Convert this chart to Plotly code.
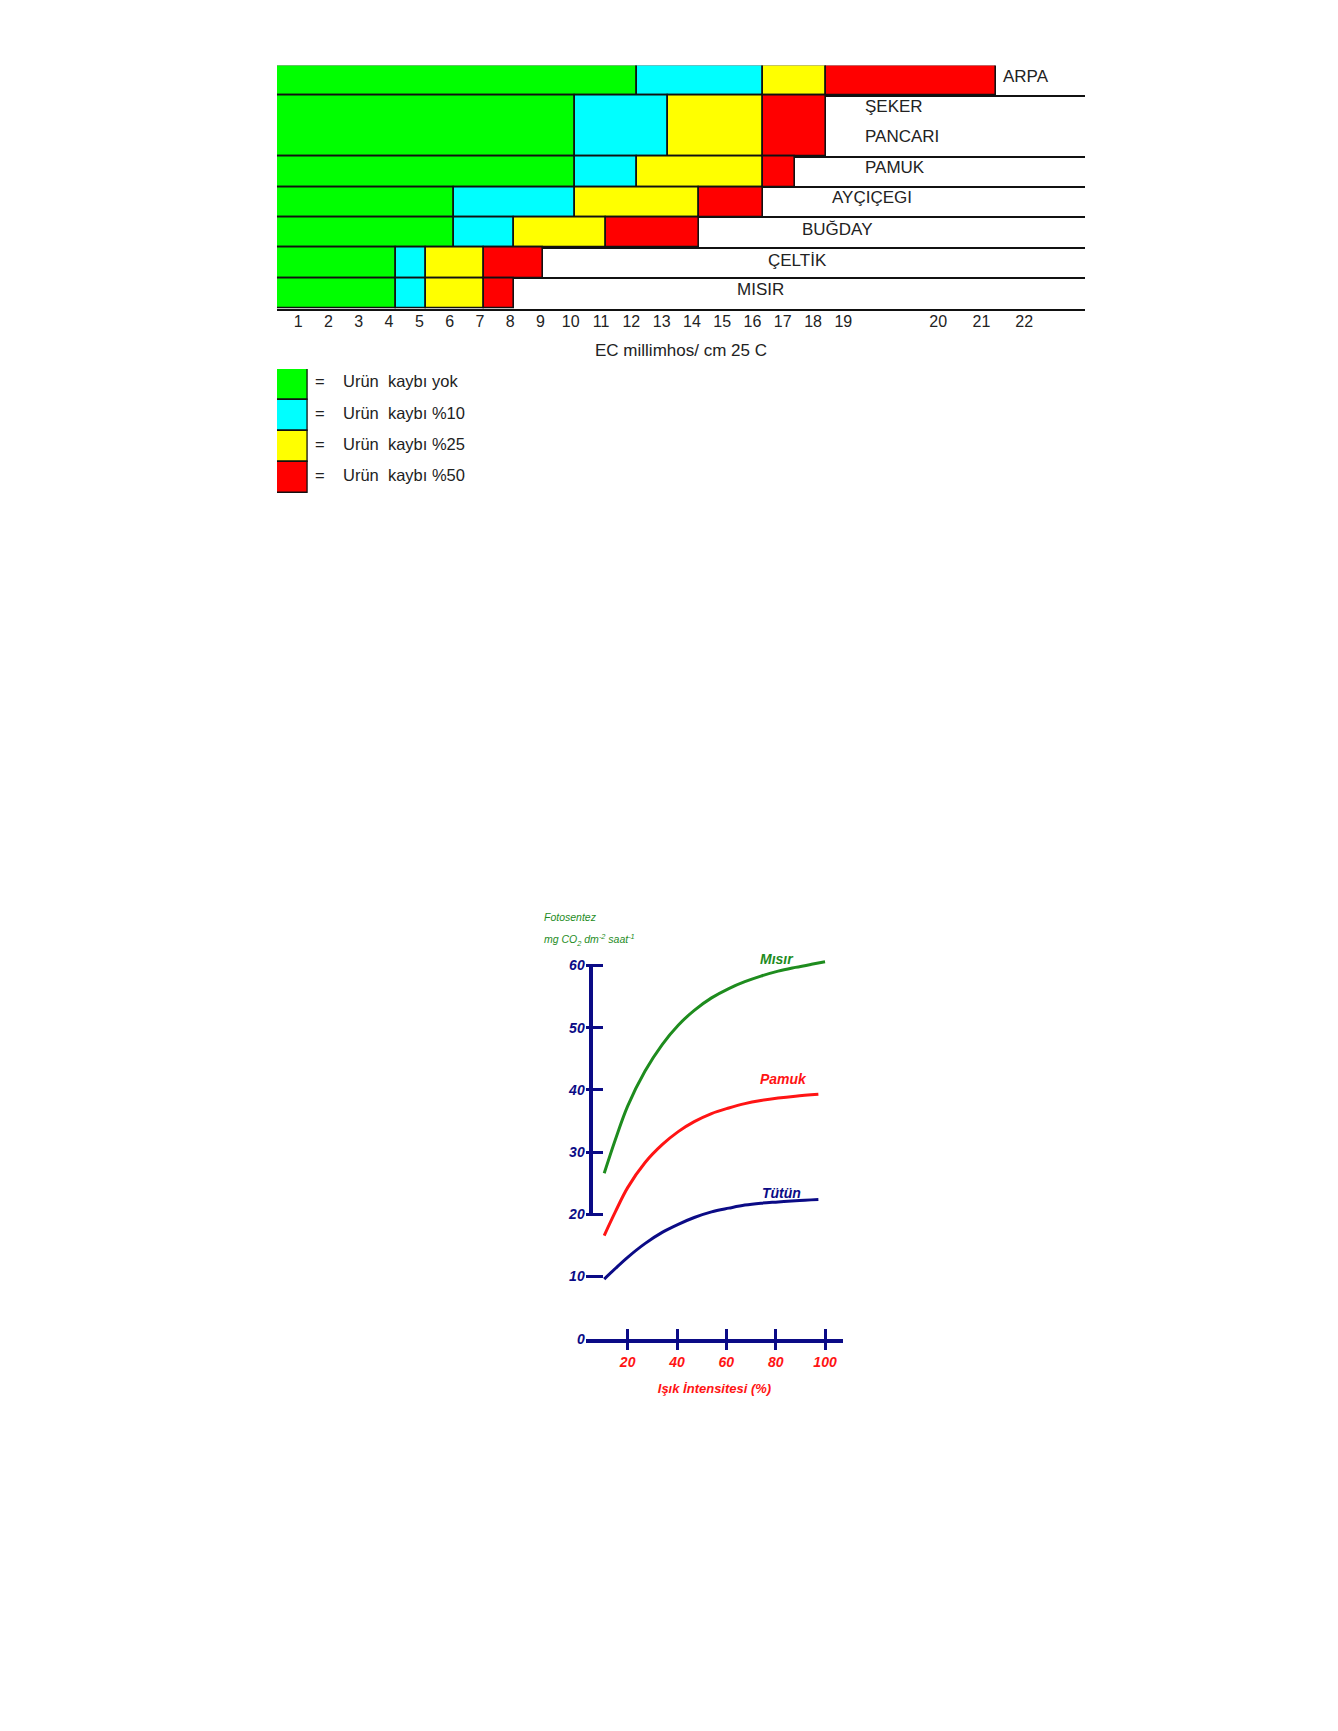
import plotly.graph_objects as go

# ---------------- DATA : salt tolerance chart ----------------
CROPS = ["ARPA", "ŞEKER PANCARI", "PAMUK", "AYÇIÇEGI", "BUĞDAY", "ÇELTİK", "MISIR"]
# EC value where each loss class ends (axis units)
END_NO_LOSS = [12.20, 10.14, 10.14, 6.15, 6.15, 4.22, 4.22]
END_LOSS_10 = [16.36, 13.22, 12.20, 10.14, 8.12, 5.21, 5.21]
END_LOSS_25 = [18.42, 16.36, 16.36, 14.24, 11.15, 7.13, 7.13]
END_LOSS_50 = [24.04, 18.42, 17.40, 16.36, 14.24, 9.07, 8.12]

EC_TICK_TEXT = ["1", "2", "3", "4", "5", "6", "7", "8", "9", "10", "11", "12",
                "13", "14", "15", "16", "17", "18", "19", "20", "21", "22"]
EC_TICK_AT = [1, 2, 3, 4, 5, 6, 7, 8, 9, 10, 11, 12, 13, 14, 15, 16, 17, 18, 19,
              22.13, 23.56, 24.97]

LOSS_LABELS = ["Urün  kaybı yok", "Urün  kaybı %10", "Urün  kaybı %25", "Urün  kaybı %50"]

# ---------------- DATA : photosynthesis chart ----------------
LIGHT_MISIR = [10.5, 15, 20, 27, 34, 40.5, 47, 54, 61, 67.5, 74, 81, 88, 94.5, 100]
MISIR_VAL = [26.6, 32.0, 37.4, 43.0, 47.3, 50.4, 52.8, 54.8, 56.3, 57.4, 58.3, 59.1, 59.7, 60.2, 60.6]
LIGHT_OTHER = [10.5, 15, 20, 27, 34, 40.5, 47, 54, 61, 67.5, 74, 81, 88, 97.3]
PAMUK_VAL = [16.6, 20.4, 24.3, 28.3, 31.2, 33.3, 34.9, 36.2, 37.1, 37.8, 38.3, 38.7, 39.0, 39.3]
TUTUN_VAL = [9.6, 11.3, 13.1, 15.3, 17.1, 18.4, 19.5, 20.4, 21.0, 21.5, 21.8, 22.0, 22.2, 22.4]
PHOTO_Y_TICKS = [0, 10, 20, 30, 40, 50, 60]
LIGHT_TICKS = [20, 40, 60, 80, 100]

# ---------------- styles / layout helpers ----------------
W, H = 1338, 1731
def px(x):
    return x / W
def py(y):
    return 1 - y / H

FONT = "Arial, Liberation Sans, sans-serif"
TXT = "#222222"
LOSS_COLORS = ["#00FF00", "#00FFFF", "#FFFF00", "#FF0000"]
NAVY = "#0B0B86"
GREEN = "#1E8C1E"
RED = "#FF1414"

# row bands: a crop name with two words takes two rows
heights = [len(c.split(" ")) for c in CROPS]
tops = []
acc = sum(heights)
for h in heights:
    tops.append(acc)
    acc -= h
centers = [t - h / 2 for t, h in zip(tops, heights)]
row_lines = sorted(set([t - h for t, h in zip(tops, heights)] + tops[1:]))

fig = go.Figure()

ends = [END_NO_LOSS, END_LOSS_10, END_LOSS_25, END_LOSS_50]
prev = [0.0] * len(CROPS)
for arr, col in zip(ends, LOSS_COLORS):
    fig.add_trace(go.Bar(
        y=centers, x=[a - p for a, p in zip(arr, prev)], base=prev,
        width=heights, orientation="h", marker=dict(color=col, line=dict(color="#111", width=1.6)),
        xaxis="x", yaxis="y", showlegend=False, hoverinfo="skip"))
    prev = list(arr)

# legend swatches
n = len(LOSS_LABELS)
leg_y = list(range(n - 1, -1, -1))
fig.add_trace(go.Bar(
    y=leg_y, x=[1] * n, base=[0] * n, width=[1] * n, orientation="h",
    marker=dict(color=LOSS_COLORS, line=dict(color="#111", width=1.6)),
    xaxis="x2", yaxis="y2", showlegend=False, hoverinfo="skip"))

# photosynthesis curves
for xs, ys, col in [(LIGHT_MISIR, MISIR_VAL, GREEN), (LIGHT_OTHER, PAMUK_VAL, RED), (LIGHT_OTHER, TUTUN_VAL, NAVY)]:
    fig.add_trace(go.Scatter(x=xs, y=ys, mode="lines",
                             line=dict(color=col, width=3, shape="spline", smoothing=1.0),
                             xaxis="x3", yaxis="y3", showlegend=False, hoverinfo="skip"))
# helper (empty) traces to materialise the extra axes
fig.add_trace(go.Scatter(x=[None], y=[None], xaxis="x4", yaxis="y3", showlegend=False, hoverinfo="skip"))
fig.add_trace(go.Scatter(x=[None], y=[None], xaxis="x3", yaxis="y4", showlegend=False, hoverinfo="skip"))

# crop name labels
LABEL_POS = {
    "ARPA": (24.2, 7.65, "left"),
    "ŞEKER": (19.65, 6.65, "left"),
    "PANCARI": (19.65, 5.65, "left"),
    "PAMUK": (19.65, 4.64, "left"),
    "AYÇIÇEGI": (19.95, 3.65, "center"),
    "BUĞDAY": (18.81, 2.60, "center"),
    "ÇELTİK": (17.50, 1.58, "center"),
    "MISIR": (16.28, 0.62, "center"),
}
annotations = []
for c in CROPS:
    for word in c.split(" "):
        x, y, anc = LABEL_POS[word]
        annotations.append(dict(x=x, y=y, xref="x", yref="y", text=word, showarrow=False,
                                xanchor=anc, yanchor="middle", font=dict(family=FONT, size=17, color=TXT)))

# legend texts
for yy, lab in zip(leg_y, LOSS_LABELS):
    annotations.append(dict(x=px(320), y=yy + 0.10, xref="paper", yref="y2", text="=", showarrow=False,
                            xanchor="center", yanchor="middle", font=dict(family=FONT, size=16.5, color=TXT)))
    annotations.append(dict(x=px(341), y=yy + 0.10, xref="paper", yref="y2",
                            text=lab.replace("  ", "\u00a0\u00a0"), showarrow=False,
                            xanchor="left", yanchor="middle", font=dict(family=FONT, size=16.5, color=TXT)))

# photosynthesis annotations
CURVE_LABELS = [("Mısır", 80.5, 61.0, GREEN), ("Pamuk", 83.3, 41.8, RED), ("Tütün", 82.4, 23.4, NAVY)]
for t, x, y, col in CURVE_LABELS:
    annotations.append(dict(x=x, y=y, xref="x3", yref="y3", text=t, showarrow=False,
                            font=dict(family=FONT, size=14, color=col, weight="bold", style="italic")))
annotations.append(dict(x=px(542), y=py(921), xref="paper", yref="paper", text="Fotosentez",
                        showarrow=False, xanchor="left", yanchor="middle",
                        font=dict(family=FONT, size=10.5, color=GREEN, style="italic")))
annotations.append(dict(x=px(542), y=py(944), xref="paper", yref="paper",
                        text="mg CO<sub>2</sub> dm<sup>-2</sup> saat<sup>-1</sup>",
                        showarrow=False, xanchor="left", yanchor="middle",
                        font=dict(family=FONT, size=10.5, color=GREEN, style="italic")))

fig.update_layout(
    width=W, height=H, margin=dict(l=0, r=0, t=0, b=0),
    paper_bgcolor="white", plot_bgcolor="rgba(0,0,0,0)",
    barmode="overlay", bargap=0, showlegend=False,
    font=dict(family=FONT, color=TXT),
    annotations=annotations,
    xaxis=dict(domain=[px(277), px(1085)], range=[0.30, 26.98], anchor="y",
               tickmode="array", tickvals=EC_TICK_AT, ticktext=EC_TICK_TEXT, ticks="",
               ticklabelstandoff=-3,
               tickfont=dict(family=FONT, size=16, color=TXT),
               showgrid=False, zeroline=False, showline=True, linecolor="#111", linewidth=1.6,
               title=dict(text="EC millimhos/ cm 25 C", font=dict(family=FONT, size=17, color=TXT), standoff=16)),
    yaxis=dict(domain=[py(310), py(65.7)], range=[0, sum(heights)], anchor="x",
               tickmode="array", tickvals=row_lines, showticklabels=False, ticks="",
               showgrid=True, gridcolor="#111", gridwidth=1.6, zeroline=False, showline=False),
    xaxis2=dict(domain=[px(277), px(307.7)], range=[0, 1], anchor="y2",
                showticklabels=False, showgrid=False, zeroline=False, ticks=""),
    yaxis2=dict(domain=[py(495.7), py(370.7)], range=[-0.5, n - 0.5], anchor="x2",
                showticklabels=False, ticks="", showgrid=False, zeroline=False),
    xaxis3=dict(domain=[px(585.7), px(843.3)], range=[3, 107.4], anchor="y3",
                tickmode="array", tickvals=LIGHT_TICKS, ticks="outside", ticklen=7, tickwidth=3,
                tickcolor=NAVY, showline=True, linecolor=NAVY, linewidth=4,
                showgrid=False, zeroline=False,
                tickfont=dict(family=FONT, size=14, color=RED, weight="bold", style="italic"),
                title=dict(text="Işık İntensitesi (%)", standoff=16,
                           font=dict(family=FONT, size=13, color=RED, weight="bold", style="italic"))),
    xaxis4=dict(overlaying="x3", anchor="y3", range=[3, 107.4], side="bottom",
                tickmode="array", tickvals=LIGHT_TICKS, ticks="inside", ticklen=10, tickwidth=3,
                tickcolor=NAVY, showticklabels=False, showline=False, showgrid=False, zeroline=False),
    yaxis3=dict(domain=[py(1345), py(957.5)], range=[0, 62], anchor="x3",
                tickmode="array", tickvals=PHOTO_Y_TICKS, ticks="inside", ticklen=17, tickwidth=3,
                tickcolor=NAVY, showline=False, showgrid=False, zeroline=False,
                tickfont=dict(family=FONT, size=14, color=NAVY, weight="bold", style="italic")),
    yaxis4=dict(domain=[py(1220), py(970)], range=[20, 60], anchor="free", position=px(590.7),
                showline=True, linecolor=NAVY, linewidth=4, ticks="", showticklabels=False,
                showgrid=False, zeroline=False),
)

fig.write_html("out.html", config={"displayModeBar": False},
               post_script="document.body.style.margin='0px';")
